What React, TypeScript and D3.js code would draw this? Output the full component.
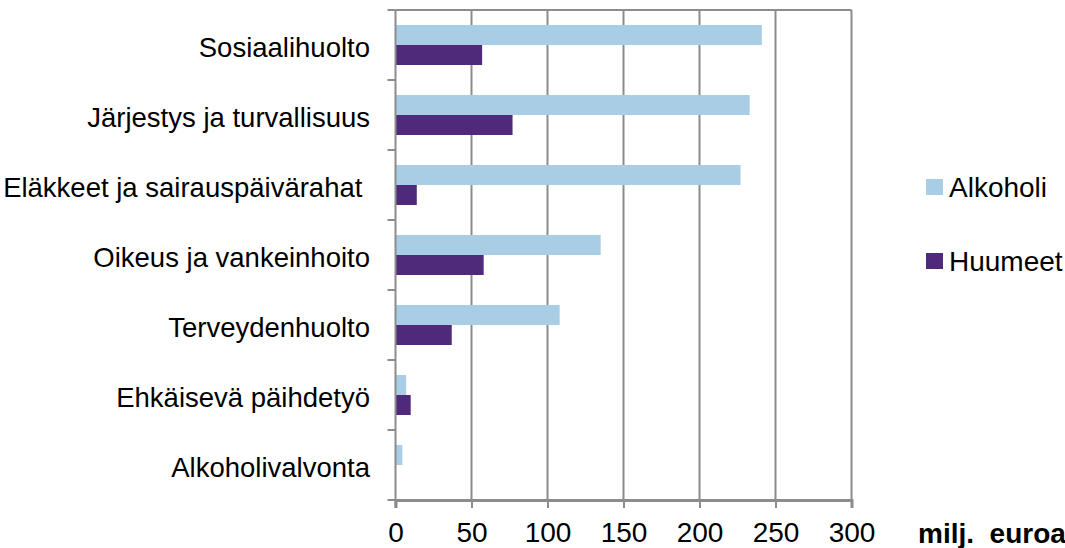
import { useEffect, useRef } from "react";
import * as d3 from "d3";

const categories = [
  "Sosiaalihuolto",
  "Järjestys ja turvallisuus",
  "Eläkkeet ja sairauspäivärahat ",
  "Oikeus ja vankeinhoito",
  "Terveydenhuolto",
  "Ehkäisevä päihdetyö",
  "Alkoholivalvonta",
];
const alkoholi = [241, 233, 227, 135, 108, 7, 4.5];
const huumeet = [57, 77, 14, 58, 37, 10, 0];
const seriesNames = ["Alkoholi", "Huumeet"];
const xTicks = [0, 50, 100, 150, 200, 250, 300];
const unitLabel = "milj.  euroa";

export default function App() {
  const ref = useRef<SVGSVGElement>(null);

  useEffect(() => {
    if (!ref.current) return;
    document.body.style.margin = "0";

    const width = 1065,
      height = 548,
      margin = { top: 10, right: 213.5, bottom: 48, left: 395.5 };
    const colors = ["#a9cde4", "#4f2a7b"];
    const gridColor = "#8c8c8c";
    const font = "'Liberation Sans', Arial, sans-serif";

    const svg = d3.select(ref.current);
    svg.selectAll("*").remove();
    svg.attr("width", width).attr("height", height);

    const x = d3
      .scaleLinear()
      .domain([0, 300])
      .range([margin.left, width - margin.right]);

    const y = d3
      .scaleBand()
      .domain(categories)
      .range([margin.top, height - margin.bottom])
      .paddingInner(3 / 7)
      .paddingOuter(3 / 14);

    const ySub = d3
      .scaleBand()
      .domain(seriesNames)
      .range([0, y.bandwidth()]);

    const plotTop = margin.top,
      plotBottom = height - margin.bottom;
    const step = y.step();

    // gridlines (vertical)
    svg
      .append("g")
      .selectAll("line")
      .data(xTicks.slice(1))
      .enter()
      .append("line")
      .attr("x1", (d) => x(d))
      .attr("x2", (d) => x(d))
      .attr("y1", plotTop)
      .attr("y2", plotBottom)
      .attr("stroke", gridColor)
      .attr("stroke-width", 2);

    // top border
    svg
      .append("line")
      .attr("x1", x(0))
      .attr("x2", x(300))
      .attr("y1", plotTop)
      .attr("y2", plotTop)
      .attr("stroke", gridColor)
      .attr("stroke-width", 2);

    // bars
    const rows = categories.map((c, i) => ({
      cat: c,
      values: [alkoholi[i], huumeet[i]],
    }));

    const groups = svg
      .append("g")
      .selectAll("g")
      .data(rows)
      .enter()
      .append("g")
      .attr("transform", (d) => `translate(0,${y(d.cat)})`);

    groups
      .selectAll("rect")
      .data((d) => d.values.map((v, j) => ({ v, s: seriesNames[j], j })))
      .enter()
      .append("rect")
      .attr("x", x(0))
      .attr("y", (d) => ySub(d.s)!)
      .attr("width", (d) => x(d.v) - x(0))
      .attr("height", ySub.bandwidth())
      .attr("fill", (d) => colors[d.j]);

    // y axis line + ticks at band boundaries
    svg
      .append("line")
      .attr("x1", x(0))
      .attr("x2", x(0))
      .attr("y1", plotTop)
      .attr("y2", plotBottom + 8)
      .attr("stroke", gridColor)
      .attr("stroke-width", 2);

    svg
      .append("g")
      .selectAll("line")
      .data(d3.range(categories.length + 1))
      .enter()
      .append("line")
      .attr("x1", x(0) - 8)
      .attr("x2", x(0))
      .attr("y1", (i) => plotTop + i * step)
      .attr("y2", (i) => plotTop + i * step)
      .attr("stroke", gridColor)
      .attr("stroke-width", 2);

    // x axis
    const xAxis = svg
      .append("g")
      .attr("transform", `translate(0,${plotBottom})`)
      .call(d3.axisBottom(x).tickValues(xTicks).tickSize(8).tickPadding(14));
    xAxis.select(".domain").attr("stroke", gridColor).attr("stroke-width", 3);
    xAxis.selectAll(".tick line").attr("stroke", gridColor).attr("stroke-width", 2);
    xAxis
      .selectAll("text")
      .attr("fill", "#000")
      .style("font-family", font)
      .style("font-size", "28px");

    // category labels
    svg
      .append("g")
      .selectAll("text")
      .data(categories)
      .enter()
      .append("text")
      .attr("x", 370)
      .attr("y", (d) => y(d)! + y.bandwidth() / 2 + 12)
      .attr("text-anchor", "end")
      .style("white-space", "pre")
      .style("font-family", font)
      .style("font-size", "27.5px")
      .attr("fill", "#000")
      .text((d) => d);

    // unit label
    svg
      .append("text")
      .attr("x", 918)
      .attr("y", 543)
      .style("white-space", "pre")
      .style("font-family", font)
      .style("font-size", "28px")
      .style("font-weight", "bold")
      .attr("fill", "#000")
      .text(unitLabel);

    // legend
    const legend = svg
      .append("g")
      .selectAll("g")
      .data(seriesNames)
      .enter()
      .append("g")
      .attr("transform", (d, i) => `translate(926,${179 + i * 74})`);

    legend
      .append("rect")
      .attr("width", 17)
      .attr("height", 16)
      .attr("fill", (d, i) => colors[i]);

    legend
      .append("text")
      .attr("x", 23)
      .attr("y", 18)
      .style("font-family", font)
      .style("font-size", "28px")
      .attr("fill", "#000")
      .text((d) => d);
  }, []);

  return <svg ref={ref} style={{ display: "block" }} />;
}
